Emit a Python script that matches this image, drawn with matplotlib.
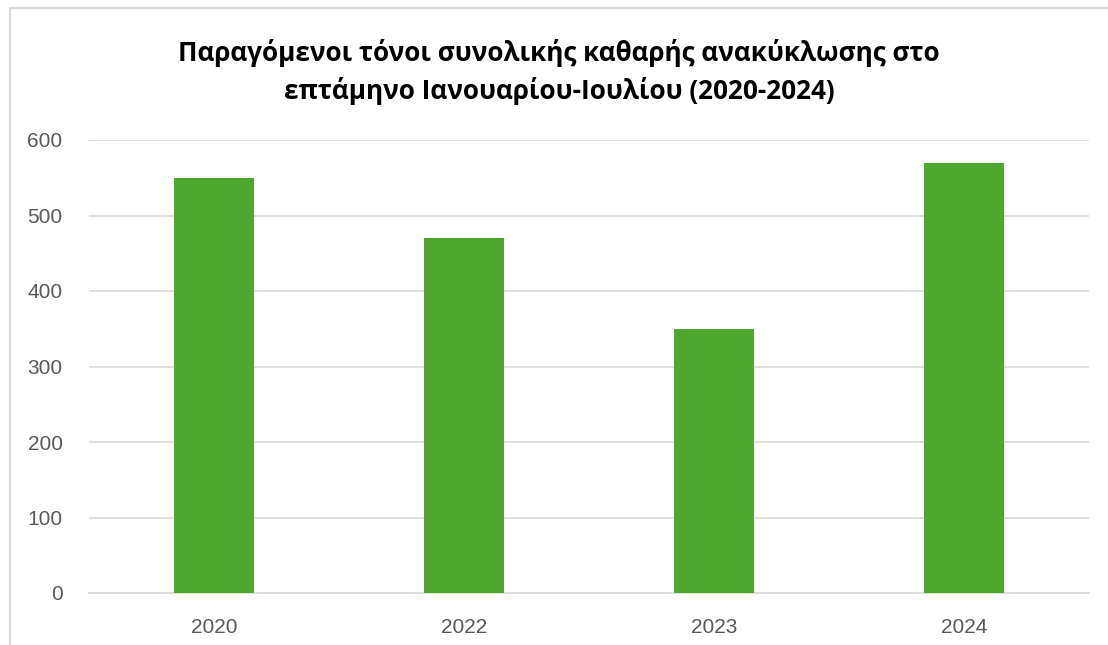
import matplotlib
matplotlib.use("Agg")
import matplotlib.pyplot as plt
from matplotlib.patches import Rectangle

categories = ["2020", "2022", "2023", "2024"]
values = [550, 470, 350, 570]
yticks = [0, 100, 200, 300, 400, 500, 600]
title = "Παραγόμενοι τόνοι συνολικής καθαρής ανακύκλωσης στο\nεπτάμηνο Ιανουαρίου-Ιουλίου (2020-2024)"

W, H = 1108, 645
fig = plt.figure(figsize=(W / 100, H / 100), dpi=100)
fig.patch.set_facecolor("white")

# chart border (partly cut off)
fig.add_artist(Rectangle((10 / W, -0.1), 1.2, 1 - 8 / H + 0.1, transform=fig.transFigure,
                         fill=False, edgecolor="#d9d9d9", linewidth=1.5))

ax = fig.add_axes([89 / W, 1 - 593 / H, 1000 / W, (593 - 140) / H])
x = list(range(len(categories)))
ax.bar(x, values, width=0.32, color="#4ea72e", zorder=3)
ax.set_xlim(-0.5, len(categories) - 0.5)
ax.set_ylim(0, 600)
ax.set_yticks(yticks)
ax.set_xticks(x)
ax.set_xticklabels(categories)
ax.grid(axis="y", color="#d9d9d9", linewidth=1.2, zorder=0)
for s in ["top", "right", "left"]:
    ax.spines[s].set_visible(False)
ax.spines["bottom"].set_color("#d9d9d9")
ax.spines["bottom"].set_linewidth(1.2)
ax.tick_params(axis="both", length=0, labelsize=15, labelcolor="#595959")
ax.tick_params(axis="y", pad=19)
ax.tick_params(axis="x", pad=18)
for lab in ax.get_xticklabels() + ax.get_yticklabels():
    lab.set_fontfamily("Liberation Sans")

fig.text(0.5 + 5 / W, 1 - 72 / H, title, ha="center", va="center", fontsize=18.8,
         fontweight="bold", color="#000000", family="Open Sans", linespacing=1.45)

fig.savefig("out.png", dpi=100)
